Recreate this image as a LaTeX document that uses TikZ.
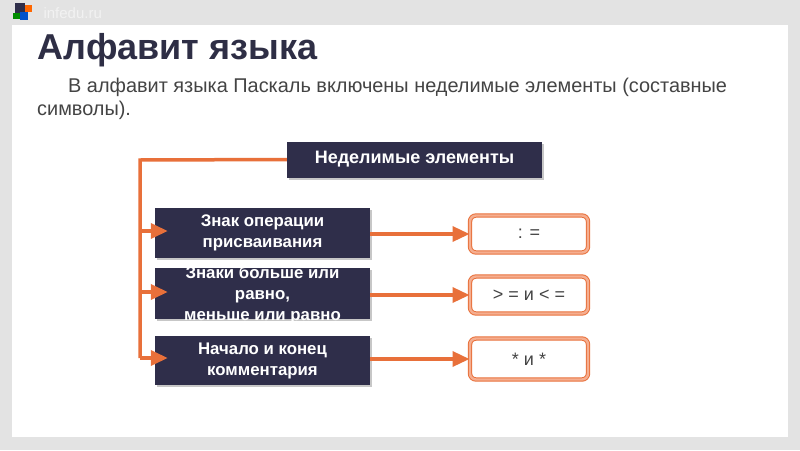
\documentclass[tikz,border=0pt]{standalone}
\usepackage{fontspec}
\setmainfont{Liberation Sans}
\usetikzlibrary{arrows.meta,shadows,calc}
\definecolor{navy}{HTML}{2F2E4A}
\definecolor{titlec}{HTML}{2E2E45}
\definecolor{bodyc}{HTML}{444444}
\definecolor{org}{HTML}{E8703A}
\definecolor{salmon}{HTML}{F5AE90}
\definecolor{bg}{HTML}{E3E3E3}
\tikzset{
  darkbox/.style={fill=navy, text=white, font=\bfseries\fontsize{16.8}{21}\selectfont, align=center,
    minimum width=215pt, inner sep=0pt,
    drop shadow={shadow xshift=1.5pt, shadow yshift=-2pt, fill=black!22, opacity=1}},
  valbox/.style={draw=org, double=salmon, double distance=2.4pt, line width=1pt, fill=white,
    rounded corners=6pt, minimum width=118pt, minimum height=37pt, inner sep=0pt,
    text=bodyc, font=\fontsize{18}{20}\selectfont},
  conn/.style={draw=org, line width=3.5pt},
  arr/.style={conn, -{Triangle[length=17pt,width=15pt]}},
}
\begin{document}
\begin{tikzpicture}[x=1pt,y=-1pt]
\useasboundingbox (0,0) rectangle (800,450);
\fill[bg] (0,0) rectangle (800,450);
\fill[white] (12,25) rectangle (788,437);
% logo
\fill[navy] (15,3) rectangle (25,13);
\fill[orange!80!red] (25,5) rectangle (32,12);
\fill[green!55!black] (13,13) rectangle (20,19);
\fill[blue!60!cyan!80!black] (20,12) rectangle (28,20);
\node[anchor=west, text=white!90!gray, font=\fontsize{15}{15}\selectfont] (logo) at (40,13) {infedu.ru};
% title and text
\node[anchor=base west, inner sep=0pt, text=titlec, font=\bfseries\fontsize{36}{36}\selectfont] (title) at (37,59) {Алфавит языка};
\node[anchor=base west, inner sep=0pt, text=bodyc, font=\fontsize{19.9}{19.9}\selectfont] (l1) at (68,92) {В алфавит языка Паскаль включены неделимые элементы (составные};
\node[anchor=base west, inner sep=0pt, text=bodyc, font=\fontsize{19.9}{19.9}\selectfont] (l2) at (37,115) {символы).};
% boxes
\node[darkbox, font=\bfseries\fontsize{18}{21}\selectfont, minimum width=255pt, minimum height=36pt] (top) at (414.5,159.5) {Неделимые элементы};
\node[darkbox, minimum height=50pt] (b1) at (262.5,232.5) {Знак операции\\присваивания};
\node[darkbox, minimum height=51pt] (b2) at (262.5,293.5) {};
\node[text=white, font=\bfseries\fontsize{16.8}{21}\selectfont, align=center, inner sep=0pt] (b2t) at (262.5,295.5) {Знаки больше или\\равно,\\меньше или равно};
\node[darkbox, minimum height=49pt] (b3) at (262.5,360.5) {Начало и конец\\комментария};
\node[valbox] (v1) at (529,234) {: =};
\node[valbox] (v2) at (529,295) {> = и < =};
\node[valbox, minimum height=41pt] (v3) at (529,359) {* и *};
% connectors
\coordinate (tk0) at (140,160);
\coordinate (tk3) at (140,358);
\draw[conn] (top.west) -- (tk0) -- (tk3);
\coordinate (tk1) at (140,231);
\coordinate (tk2) at (140,292);
\draw[arr, shorten >=-13pt] (tk1) -- (b1.west |- tk1);
\draw[arr, shorten >=-13pt] (tk2) -- (b2.west |- tk2);
\draw[arr, shorten >=-13pt] (tk3) -- (b3.west |- tk3);
\draw[arr] (b1.east |- v1) -- (v1.west);
\draw[arr] (b2.east |- v2) -- (v2.west);
\draw[arr] (b3.east |- v3) -- (v3.west);
\end{tikzpicture}
\end{document}
